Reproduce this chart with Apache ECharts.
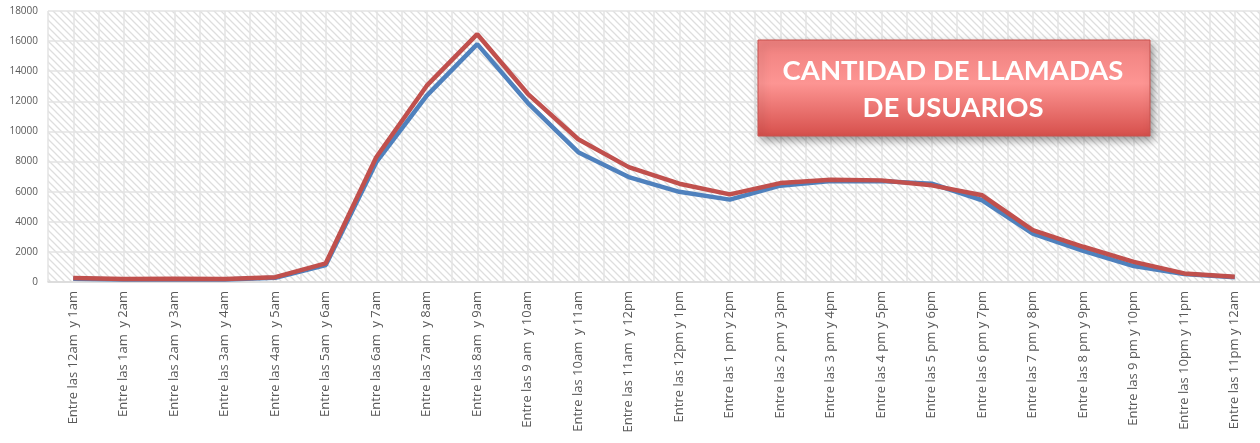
<!DOCTYPE html>
<html>
<head>
<meta charset="utf-8">
<script src="https://cdn.jsdelivr.net/npm/echarts@6/dist/echarts.min.js"></script>
<style>
  html, body { margin: 0; padding: 0; background: #fff; }
  #main { width: 1260px; height: 443px; }
</style>
</head>
<body>
<div id="main"></div>
<script>
const categories = [
  'Entre las 12am  y 1am', 'Entre las 1am  y 2am', 'Entre las 2am  y 3am', 'Entre las 3am  y 4am',
  'Entre las 4am  y 5am', 'Entre las 5am  y 6am', 'Entre las 6am  y 7am', 'Entre las 7am  y 8am',
  'Entre las 8am  y 9am', 'Entre las 9 am  y 10am', 'Entre las 10am  y 11am', 'Entre las 11am  y 12pm',
  'Entre las 12pm y 1pm', 'Entre las 1 pm y 2pm', 'Entre las 2 pm y 3pm', 'Entre las 3 pm y 4pm',
  'Entre las 4 pm y 5pm', 'Entre las 5 pm y 6pm', 'Entre las 6 pm y 7pm', 'Entre las 7 pm y 8pm',
  'Entre las 8 pm y 9pm', 'Entre las 9 pm y 10pm', 'Entre las 10pm y 11pm', 'Entre las 11pm y 12am'
]
const blueValues = [220, 160, 180, 170, 280, 1130, 7960, 12380, 15800, 11900, 8620, 6970,
  5990, 5470, 6400, 6700, 6700, 6530, 5430, 3220, 2070, 1060, 530, 310]
const redValues = [270, 200, 220, 200, 320, 1240, 8290, 13040, 16460, 12500, 9480, 7630,
  6530, 5820, 6570, 6790, 6750, 6420, 5760, 3440, 2340, 1340, 570, 350]
const yTicks = { min: 0, max: 18000, interval: 2000 }
const titleLines = ['CANTIDAD DE LLAMADAS', 'DE USUARIOS']

// diagonal hatch for the plot background
const hatch = document.createElement('canvas')
hatch.width = 7
hatch.height = 7
const hctx = hatch.getContext('2d')
hctx.fillStyle = '#ffffff'
hctx.fillRect(0, 0, 7, 7)
hctx.strokeStyle = '#dedede'
hctx.lineWidth = 1.3
hctx.beginPath()
hctx.moveTo(-1, -1); hctx.lineTo(8, 8)
hctx.moveTo(-8, -1); hctx.lineTo(1, 8)
hctx.moveTo(6, -1); hctx.lineTo(15, 8)
hctx.stroke()

const halfSteps = new Array(categories.length * 2).fill('')

const chart = echarts.init(document.getElementById('main'))
chart.setOption({
  animation: false,
  backgroundColor: '#ffffff',
  grid: {
    left: 48, top: 11, width: 1222, height: 271,
    show: true,
    backgroundColor: { image: hatch, repeat: 'repeat' },
    borderWidth: 0
  },
  xAxis: [
    {
      type: 'category',
      data: categories,
      boundaryGap: true,
      axisLine: { show: true, lineStyle: { color: '#d9d9d9', width: 1.5 } },
      axisTick: { show: false },
      splitLine: { show: false },
      axisLabel: {
        interval: 0,
        rotate: 90,
        margin: 9,
        color: '#595959',
        fontFamily: 'Open Sans',
        fontSize: 13
      }
    },
    {
      type: 'category',
      data: halfSteps,
      position: 'bottom',
      boundaryGap: true,
      axisLine: { show: false },
      axisTick: { show: false },
      axisLabel: { show: false },
      splitLine: { show: true, interval: 0, lineStyle: { color: '#e3e3e3', width: 1.5 } }
    }
  ],
  yAxis: {
    type: 'value',
    min: yTicks.min,
    max: yTicks.max,
    interval: yTicks.interval,
    axisLine: { show: false },
    axisTick: { show: false },
    splitLine: { show: true, lineStyle: { color: '#e3e3e3', width: 1.5 } },
    axisLabel: {
      color: '#595959',
      fontFamily: 'Open Sans',
      fontSize: 10,
      margin: 10,
      formatter: (v) => String(v)
    }
  },
  series: [
    {
      type: 'line',
      data: blueValues,
      symbol: 'none',
      lineStyle: { color: '#4f81bd', width: 4.5 },
      z: 3
    },
    {
      type: 'line',
      data: redValues,
      symbol: 'none',
      lineStyle: { color: '#c0504d', width: 4.5 },
      z: 4
    }
  ],
  graphic: [
    {
      type: 'rect',
      shape: { x: 758, y: 40, width: 392, height: 96 },
      style: {
        fill: {
          type: 'linear', x: 0, y: 0, x2: 0, y2: 1,
          colorStops: [
            { offset: 0, color: '#ee7f7d' },
            { offset: 0.45, color: '#fd9593' },
            { offset: 1, color: '#d64f4b' }
          ]
        },
        stroke: '#c9524f',
        lineWidth: 1,
        shadowBlur: 8,
        shadowOffsetX: 3,
        shadowOffsetY: 4,
        shadowColor: 'rgba(0,0,0,0.4)'
      },
      z: 10
    },
    {
      type: 'text',
      x: 953,
      y: 71,
      style: {
        text: titleLines[0],
        fill: '#ffffff',
        font: 'bold 27.5px Lato',
        align: 'center',
        verticalAlign: 'middle'
      },
      z: 11
    },
    {
      type: 'text',
      x: 953,
      y: 108,
      style: {
        text: titleLines[1],
        fill: '#ffffff',
        font: 'bold 27.5px Lato',
        align: 'center',
        verticalAlign: 'middle'
      },
      z: 11
    }
  ]
})
</script>
</body>
</html>
